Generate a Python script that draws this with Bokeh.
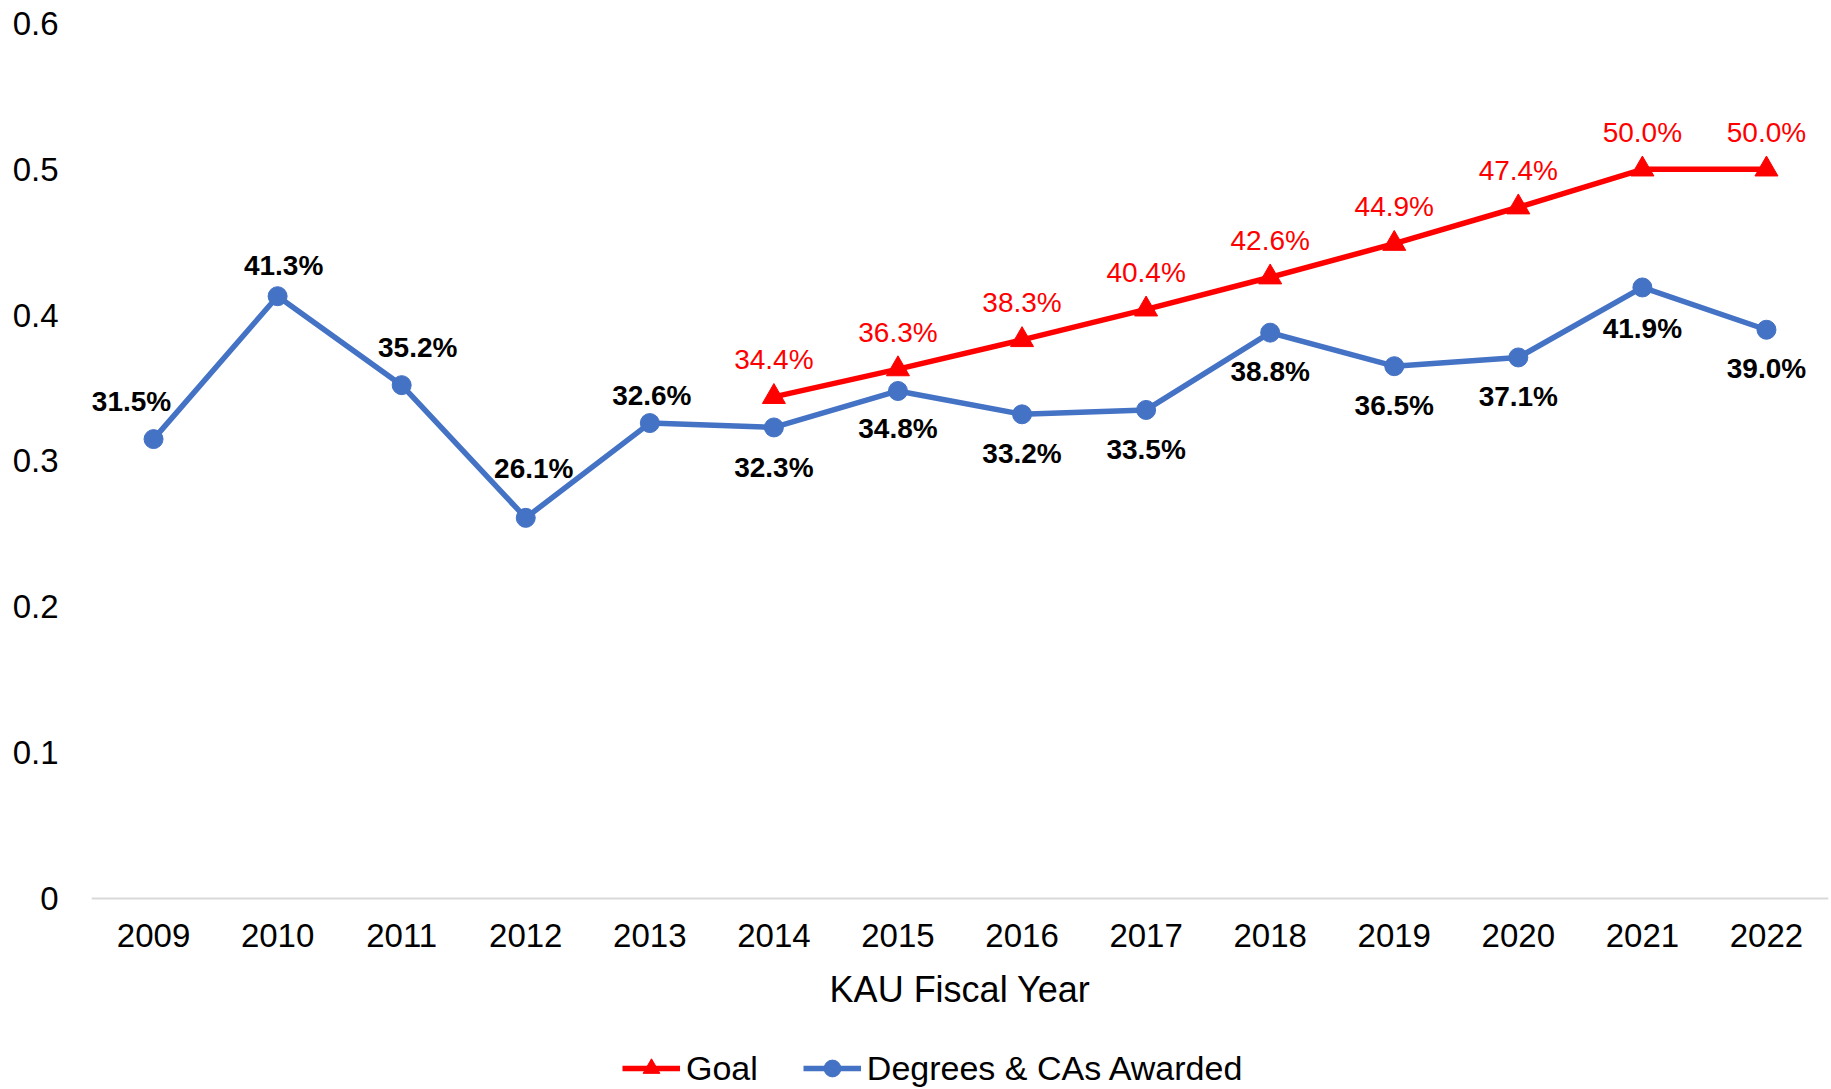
from bokeh.plotting import figure
from bokeh.models import (ColumnDataSource, FactorRange, Range1d, Legend, LegendItem,
                          CustomJSTickFormatter, FixedTicker)
from bokeh.core.properties import value
from bokeh.embed import file_html
from bokeh.resources import INLINE

# ---- data ----
years = ["2009", "2010", "2011", "2012", "2013", "2014", "2015",
         "2016", "2017", "2018", "2019", "2020", "2021", "2022"]
degrees = [0.315, 0.413, 0.352, 0.261, 0.326, 0.323, 0.348,
           0.332, 0.335, 0.388, 0.365, 0.371, 0.419, 0.390]
goal_years = ["2014", "2015", "2016", "2017", "2018", "2019", "2020", "2021", "2022"]
goal = [0.344, 0.363, 0.383, 0.404, 0.426, 0.449, 0.474, 0.500, 0.500]
y_ticks = [0, 0.1, 0.2, 0.3, 0.4, 0.5, 0.6]

# ---- label placement (style, screen px) ----
deg_dx = [-22, 6, 16, 8, 2, 0, 0, 0, 0, 0, 0, 0, 0, 0]
deg_dy = [-38, -31, -38, -49, -28, 40, 38, 39, 40, 39, 39, 39, 41, 39]

FONT = "Liberation Sans"
BLUE = "#4472C4"
RED = "#FF0000"

deg_src = ColumnDataSource(dict(
    x=years, y=degrees,
    label=[f"{v*100:.1f}%" for v in degrees],
    dx=deg_dx, dy=deg_dy))
goal_src = ColumnDataSource(dict(
    x=goal_years, y=goal,
    label=[f"{v*100:.1f}%" for v in goal]))

# the frame reaches the bottom of the canvas; the x axis sits at y = 0
p = figure(width=1831, height=1089,
           x_range=FactorRange(*years, range_padding=0),
           y_range=Range1d(-0.131, 0.6),
           output_backend="svg", toolbar_location=None,
           min_border_left=91, min_border_right=3,
           min_border_top=23, min_border_bottom=0)

p.outline_line_color = None
p.xgrid.grid_line_color = None
p.ygrid.grid_line_color = None
p.background_fill_color = "white"
p.border_fill_color = "white"

# x axis
xa = p.xaxis[0]
xa.fixed_location = 0
xa.axis_line_color = "#D9D9D9"
xa.axis_line_width = 2
xa.major_tick_line_color = None
xa.minor_tick_line_color = None
xa.major_label_text_font = FONT
xa.major_label_text_font_size = "33px"
xa.major_label_text_color = "black"
xa.major_label_standoff = 20
xa.axis_label = "KAU Fiscal Year"
xa.axis_label_text_font = FONT
xa.axis_label_text_font_size = "36px"
xa.axis_label_text_font_style = "normal"
xa.axis_label_text_color = "black"
xa.axis_label_standoff = 18

# y axis
ya = p.yaxis[0]
ya.ticker = FixedTicker(ticks=y_ticks)
ya.formatter = CustomJSTickFormatter(code="return tick == 0 ? '0' : tick.toFixed(1);")
ya.axis_line_color = None
ya.major_tick_line_color = None
ya.minor_tick_line_color = None
ya.major_label_text_font = FONT
ya.major_label_text_font_size = "33px"
ya.major_label_text_color = "black"
ya.major_label_standoff = 27

# goal series
gl = p.line("x", "y", source=goal_src, line_color=RED, line_width=5.5)
gs = p.scatter("x", "y", source=goal_src, marker="triangle", size=23,
               fill_color=RED, line_color=RED)
p.text("x", "y", text="label", source=goal_src, y_offset=-37,
       text_align="center", text_baseline="middle",
       text_font=value(FONT), text_font_size="28px", text_color=RED)

# degrees series
dl = p.line("x", "y", source=deg_src, line_color=BLUE, line_width=5.5)
ds = p.scatter("x", "y", source=deg_src, marker="circle", size=19,
               fill_color=BLUE, line_color=BLUE)
p.text("x", "y", text="label", source=deg_src, x_offset="dx", y_offset="dy",
       text_align="center", text_baseline="middle",
       text_font=value(FONT), text_font_size="28px", text_font_style="bold",
       text_color="black")

legend = Legend(items=[LegendItem(label="Goal", renderers=[gl, gs]),
                       LegendItem(label="Degrees & CAs Awarded", renderers=[dl, ds])],
                orientation="horizontal", location=(531, 0),
                label_text_font=FONT, label_text_font_size="34px",
                label_text_color="black",
                glyph_width=58, glyph_height=42, label_standoff=6,
                spacing=45, padding=0, margin=0,
                border_line_color=None, background_fill_alpha=0)
p.add_layout(legend, "center")

open("out.html", "w").write(file_html(p, INLINE))
